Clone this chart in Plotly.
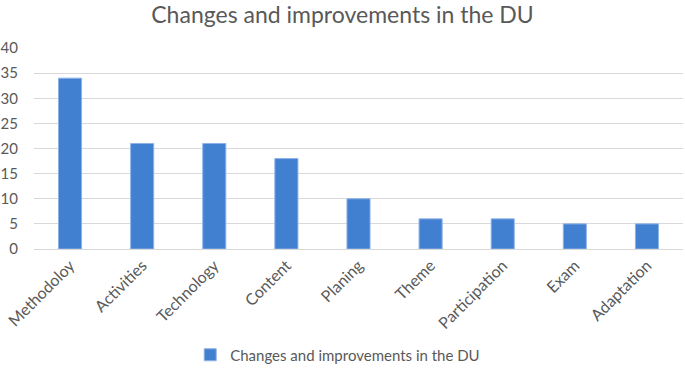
import plotly.graph_objects as go

categories = ["Methodoloy", "Activities", "Technology", "Content", "Planing",
              "Theme", "Participation", "Exam", "Adaptation"]
values = [34, 21, 21, 18, 10, 6, 6, 5, 5]
series_name = "Changes and improvements in the DU"
title_text = "Changes and improvements in the DU"
y_ticks = [0, 5, 10, 15, 20, 25, 30, 35, 40]

fig = go.Figure()
fig.add_trace(go.Bar(
    x=categories, y=values, name=series_name,
    marker=dict(color="#417fd1", line=dict(color="#8fb2e6", width=1)),
    width=0.32,
))

fig.update_layout(
    width=685, height=373,
    margin=dict(l=34, r=2, t=48, b=124),
    paper_bgcolor="white", plot_bgcolor="white",
    font=dict(family="Lato, Open Sans, sans-serif", color="#595959", size=15),
    title=dict(text=title_text, x=0.5, xanchor="center", xref="container",
               y=(373 - 15) / 373, yanchor="middle", yref="container",
               font=dict(size=23, color="#595959")),
    showlegend=True,
    legend=dict(orientation="h", x=0.493, xanchor="center", xref="container",
                y=(373 - 355) / 373, yanchor="middle", yref="container",
                font=dict(size=15, color="#595959"), itemwidth=30),
    bargap=0.68,
)
fig.update_xaxes(tickangle=-45, showgrid=False, showline=True, linecolor="#d9d9d9",
                 ticks="", tickfont=dict(size=16, color="#595959"), automargin=False)
fig.update_yaxes(range=[0, 40], tickvals=y_ticks, showgrid=True, gridcolor="#d9d9d9",
                 zeroline=False, showline=False, ticks="", automargin=False,
                 ticklabelstandoff=15,
                 tickfont=dict(size=15, color="#595959"))

fig.write_html("out.html", config={"displayModeBar": False},
               post_script="document.body.style.margin='0';document.body.style.padding='0';")
